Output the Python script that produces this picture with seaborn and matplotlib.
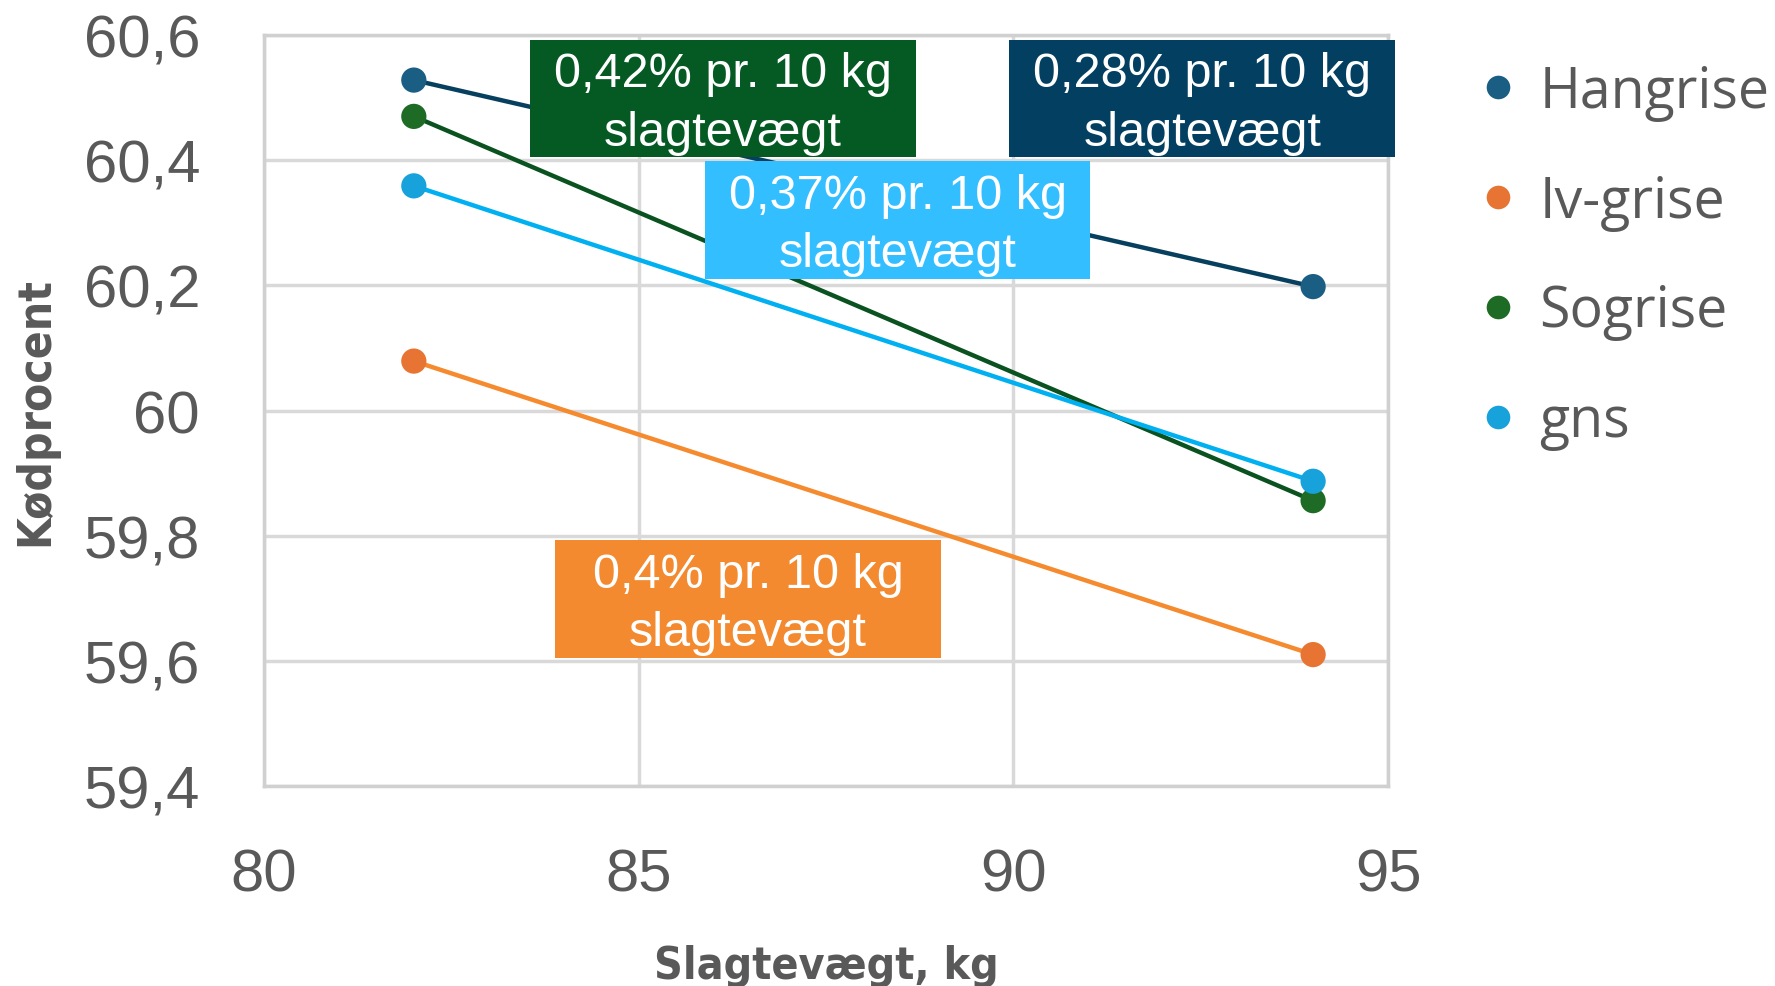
import matplotlib
matplotlib.use("Agg")
import matplotlib.pyplot as plt
from matplotlib.patches import Rectangle
from matplotlib.lines import Line2D
import seaborn as sns
import pandas as pd

# ---- data ----
weights = [82, 94]
series = ["Hangrise", "Iv-grise", "Sogrise", "gns"]
hangrise = [60.528, 60.198]
iv_grise = [60.079, 59.610]
sogrise = [60.470, 59.856]
gns = [60.359, 59.887]
x_ticks = [80, 85, 90, 95]
y_ticks = [59.4, 59.6, 59.8, 60.0, 60.2, 60.4, 60.6]
y_tick_labels = ["59,4", "59,6", "59,8", "60", "60,2", "60,4", "60,6"]
box_texts = ["0,42% pr. 10 kg\nslagtevægt", "0,28% pr. 10 kg\nslagtevægt",
             "0,37% pr. 10 kg\nslagtevægt", "0,4% pr. 10 kg\nslagtevægt"]

line_colors = ["#073F5E", "#F58A2E", "#0A5220", "#00B0F0"]
marker_colors = ["#1B5E84", "#E87434", "#1E6B25", "#18A2DB"]

df = pd.DataFrame({
    "w": weights * 4,
    "v": hangrise + iv_grise + sogrise + gns,
    "s": [s for s in series for _ in weights],
})

sns.set_theme(style="white")
plt.rcParams["font.family"] = ["Liberation Sans", "DejaVu Sans"]

fig = plt.figure(figsize=(17.75, 9.87), dpi=100)
ax = fig.add_axes([0.1487, 0.2026, 0.6333, 0.7609])

sns.lineplot(data=df, x="w", y="v", hue="s", palette=line_colors,
             linewidth=3.2, ax=ax, legend=False, zorder=3)
sns.scatterplot(data=df, x="w", y="v", hue="s", palette=marker_colors,
                s=330, linewidth=0, ax=ax, legend=False, zorder=4)

ax.set_xlim(80, 95)
ax.set_ylim(59.4, 60.6)
ax.set_xticks(x_ticks)
ax.set_xticklabels([str(t) for t in x_ticks])
ax.set_yticks(y_ticks)
ax.set_yticklabels(y_tick_labels)
ax.grid(True, color="#D9D9D9", linewidth=2.5)
ax.set_axisbelow(True)
for sp in ax.spines.values():
    sp.set_visible(True)
    sp.set_color("#D0D0D0")
    sp.set_linewidth(2.5)
ax.tick_params(axis="both", length=0, labelsize=43, labelcolor="#595959")
ax.tick_params(axis="y", pad=46)
ax.tick_params(axis="x", pad=44)

ax.set_xlabel("Slagtevægt, kg", fontsize=32, fontweight="bold", color="#595959",
              family="DejaVu Sans", fontstretch="condensed", labelpad=30)
ax.set_ylabel("Kødprocent", fontsize=33, fontweight="bold", color="#595959",
              family="DejaVu Sans", fontstretch="condensed", labelpad=18)

# annotation boxes (axes fraction)
box_specs = [
    (0.2367, 0.8376, 0.3433, 0.1557, "#045A22"),
    (0.663, 0.8376, 0.3433, 0.1557, "#033F61"),
    (0.392, 0.675, 0.3433, 0.157, "#33BFFF"),
    (0.259, 0.1704, 0.3433, 0.1572, "#F38A30"),
]
for (x0, y0, w, h, c), t in zip(box_specs, box_texts):
    ax.add_patch(Rectangle((x0, y0), w, h, transform=ax.transAxes,
                           facecolor=c, edgecolor="none", zorder=5, clip_on=False))
    ax.text(x0 + w / 2, y0 + h / 2 - 0.006, t, transform=ax.transAxes, ha="center",
            va="center", color="white", fontsize=35, linespacing=1.38,
            family=["Liberation Sans", "DejaVu Sans"], zorder=6)

handles = [Line2D([0], [0], marker="o", linestyle="none", markersize=17,
                  markerfacecolor=c, markeredgewidth=0) for c in marker_colors]
fig.legend(handles, series, loc="upper left", bbox_to_anchor=(0.8, 0.985),
           frameon=False, labelspacing=0.95, handletextpad=0.25,
           handlelength=1.0, labelcolor="#595959",
           prop={"family": ["Open Sans", "DejaVu Sans"], "size": 40})

fig.savefig("out.png", dpi=100)
